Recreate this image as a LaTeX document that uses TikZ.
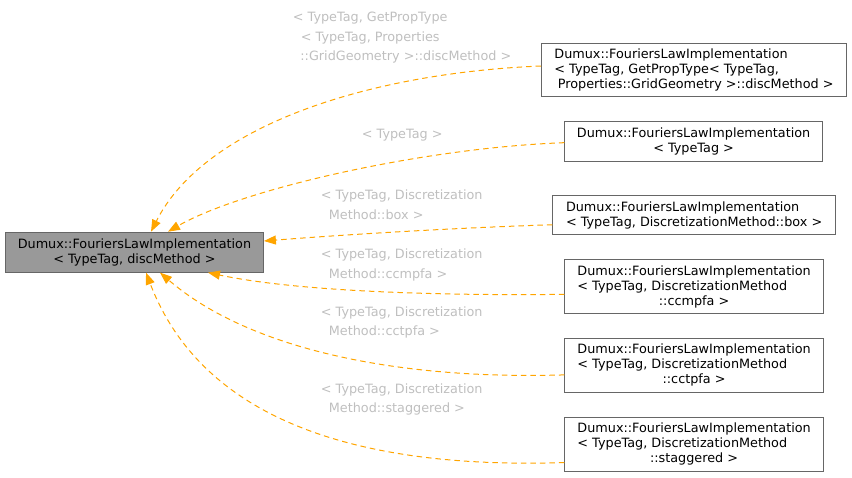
\documentclass[tikz,border=0pt]{standalone}
\usepackage{fontspec}
\setmainfont{DejaVu Sans}
\usetikzlibrary{arrows.meta,calc}
\definecolor{edgeor}{HTML}{FFA500}
\definecolor{lblgray}{HTML}{BFBFBF}
\definecolor{boxline}{HTML}{666666}
\definecolor{mainfill}{HTML}{999999}
\newlength\dlw
\newcommand\dfont{\fontsize{12.8}{15}\selectfont}
\newcommand\lfont{\fontsize{12.8}{19.7}\selectfont}
\begin{document}
\settowidth{\dlw}{\dfont Dumux::FouriersLawImplementation}
\begin{tikzpicture}[x=1pt,y=-1pt,font=\dfont,
  cls/.style={draw=boxline, fill=white, line width=0.9pt, inner sep=0pt, anchor=north west, align=center},
  lbl/.style={text=lblgray, inner sep=0pt, anchor=base west, align=left, font=\lfont},
  dep/.style={draw=edgeor, line width=1pt, dash pattern=on 5.5pt off 4pt, -{Triangle[length=12pt,width=9pt]}}]
\useasboundingbox (0,0) rectangle (852,477);
\node[cls, fill=mainfill, minimum width=258pt, minimum height=40pt] (main) at (5,231.7)
  {Dumux::FouriersLawImplementation\\< TypeTag, discMethod >};
\node[cls, align=left, minimum width=305pt, minimum height=53.3pt] (n1) at (541,42.7)
  {Dumux::FouriersLawImplementation\\< TypeTag, GetPropType< TypeTag,\\\hspace*{3.5pt}Properties::GridGeometry >::discMethod >};
\node[cls, minimum width=257.7pt, minimum height=40pt] (n2) at (564.3,121)
  {Dumux::FouriersLawImplementation\\< TypeTag >};
\node[cls, align=left, minimum width=282.7pt, minimum height=39.3pt] (n3) at (552.3,195)
  {Dumux::FouriersLawImplementation\\< TypeTag, DiscretizationMethod::box >};
\node[cls, minimum width=258.7pt, minimum height=54.3pt] (n4) at (564.3,259)
  {Dumux::FouriersLawImplementation\\\makebox[\dlw][l]{< TypeTag, DiscretizationMethod}\\::ccmpfa >};
\node[cls, minimum width=258.7pt, minimum height=54.6pt] (n5) at (564.3,337.7)
  {Dumux::FouriersLawImplementation\\\makebox[\dlw][l]{< TypeTag, DiscretizationMethod}\\::cctpfa >};
\node[cls, minimum width=258.7pt, minimum height=54.3pt] (n6) at (564.3,416.7)
  {Dumux::FouriersLawImplementation\\\makebox[\dlw][l]{< TypeTag, DiscretizationMethod}\\::staggered >};
\draw[dep] ($(n1.north west)!0.43!(n1.south west)$) .. controls (370,73) and (205,125) .. ($(main.north west)+(146,0)$);
\draw[dep] ($(n2.north west)!0.53!(n2.south west)$) .. controls (420,148) and (240,190) .. ($(main.north west)+(163,0)$);
\draw[dep] ($(n3.north west)!0.74!(n3.south west)$) .. controls (450,228) and (340,235) .. ($(main.north east)+(0,9.3)$);
\draw[dep] ($(n4.north west)!0.64!(n4.south west)$) .. controls (420,296) and (290,290) .. ($(main.south west)+(203,0)$);
\draw[dep] ($(n5.north west)!0.67!(n5.south west)$) .. controls (400,380) and (250,350) .. ($(main.south west)+(155,0)$);
\draw[dep] ($(n6.north west)!0.83!(n6.south west)$) .. controls (400,468) and (210,440) .. ($(main.south west)+(141,0)$);
\node[lbl] (l1) at (292.7,60.7) {< TypeTag, GetPropType\\\hspace*{8pt}< TypeTag, Properties\\\hspace*{7.5pt}::GridGeometry >::discMethod >};
\node[lbl] (l2) at (361.7,138.3) {< TypeTag >};
\node[lbl] (l3) at (320.7,219.3) {< TypeTag, Discretization\\\hspace*{8pt}Method::box >};
\node[lbl] (l4) at (320.7,278.3) {< TypeTag, Discretization\\\hspace*{8pt}Method::ccmpfa >};
\node[lbl] (l5) at (320.7,335.7) {< TypeTag, Discretization\\\hspace*{8pt}Method::cctpfa >};
\node[lbl] (l6) at (320.7,412.7) {< TypeTag, Discretization\\\hspace*{8pt}Method::staggered >};
\end{tikzpicture}
\end{document}
